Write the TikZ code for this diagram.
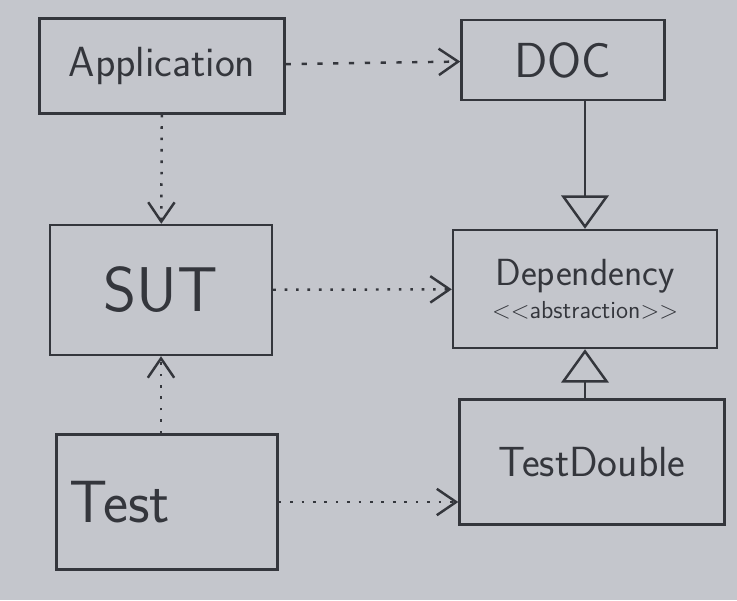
\documentclass[tikz,border=0pt]{standalone}
\usepackage{tikz}
\usetikzlibrary{arrows.meta,calc}
\definecolor{board}{RGB}{196,198,204}
\definecolor{marker}{RGB}{52,54,60}

\begin{document}
\begin{tikzpicture}[x = 0.02cm, y = -0.02cm,
    box/.style = {draw = marker, line width = 1.4pt, inner sep = 0pt, text = marker, font = \sffamily},
    uses/.style = {draw = marker, line width = 1.4pt, dash pattern = on 1.5pt off 5pt, -{Straight Barb[length=11pt,width=15pt]}},
    inherits/.style = {draw = marker, line width = 1.4pt, -{Triangle[open,length=19pt,width=27pt]}}]
          	 \fill[board] (0,0) rectangle (737,600);
          	 \useasboundingbox (0,0) rectangle (737,600);

          	 \node[box, minimum width = 4.9cm, minimum height = 1.9cm, font = \sffamily\fontsize{24}{28}\selectfont] (app) at (162,66) {Application};
          	 \node[box, minimum width = 4.06cm, minimum height = 1.6cm, font = \sffamily\fontsize{28}{32}\selectfont] (doc) at (563,60) {DOC};
          	 \node[box, minimum width = 4.44cm, minimum height = 2.6cm, font = \sffamily\fontsize{36}{40}\selectfont] (sut) at (161,290) {SUT};
          	 \node[box, minimum width = 5.28cm, minimum height = 2.36cm, align = center, font = \sffamily\fontsize{21.5}{24}\selectfont] (dep) at (585,289) {Dependency\\[-5pt]{\fontsize{14}{16}\selectfont {<}{<}abstraction{>}{>}}};
          	 \node[box, text width = 3.9cm, minimum height = 2.7cm, inner xsep = 0.26cm, align = left, font = \sffamily\fontsize{34}{38}\selectfont] (test) at (167,502) {Test};
          	 \node[box, minimum width = 5.3cm, minimum height = 2.5cm, font = \sffamily\fontsize{24}{28}\selectfont] (td) at (592,462) {TestDouble};

          	 \draw [uses, dash pattern = on 3pt off 6pt] (app) -- (doc);
          	 \draw [uses] (app) -- (sut);
          	 \draw [uses] (sut) -- (dep);
          	 \draw [uses] (test.north -| sut.south) -- (sut.south);
          	 \draw [uses] (test.east) -- (test.east -| td.west);
          	 \draw [inherits] (doc.south -| dep.north) -- (dep.north);
          	 \draw [inherits] (td.north -| dep.south) -- (dep.south);
        \end{tikzpicture}
\end{document}
